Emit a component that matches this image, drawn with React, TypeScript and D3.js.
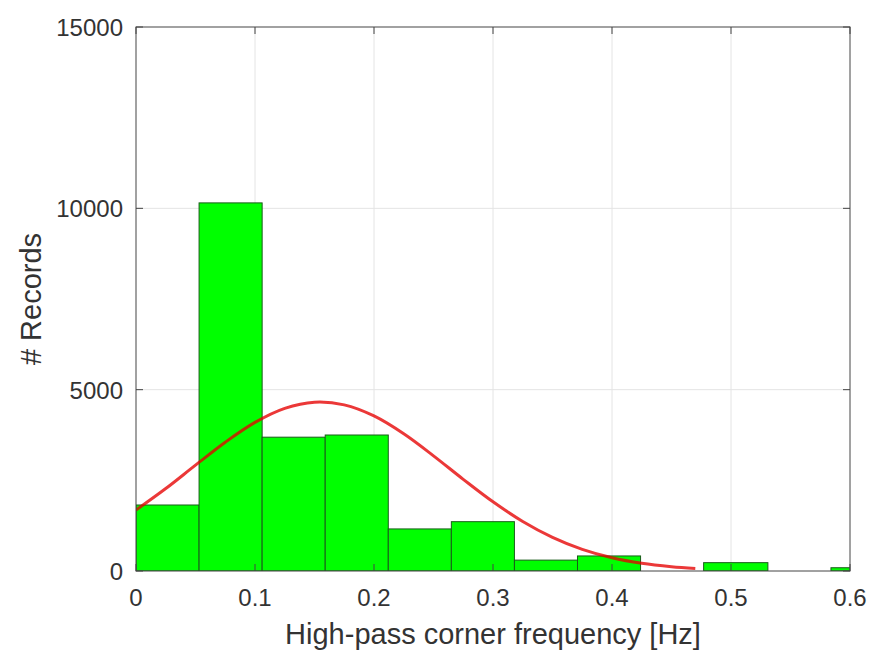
import React from "react";
import * as d3 from "d3";

// Histogram of high-pass corner frequencies with a fitted normal curve
const binEdges = [0, 0.053, 0.106, 0.159, 0.212, 0.265, 0.318, 0.371, 0.424, 0.477, 0.531, 0.584, 0.637];
const binCounts = [1820, 10150, 3690, 3750, 1160, 1360, 300, 415, 0, 230, 0, 90];

// Fitted distribution curve, sampled
const fitX = [0, 0.025, 0.05, 0.075, 0.1, 0.125, 0.15, 0.175, 0.2, 0.225, 0.25, 0.275, 0.3, 0.325, 0.35, 0.375, 0.4, 0.425, 0.45, 0.47];
const fitY = [1680, 2273, 2918, 3551, 4098, 4485, 4655, 4581, 4276, 3784, 3176, 2528, 1908, 1366, 927, 596, 364, 211, 116, 68];

const xTicks = [0, 0.1, 0.2, 0.3, 0.4, 0.5, 0.6];
const yTicks = [0, 5000, 10000, 15000];

const W = 878;
const H = 654;
const M = { left: 136, right: 28, top: 27, bottom: 83 };

export default function App() {
  const iw = W - M.left - M.right;
  const ih = H - M.top - M.bottom;
  const x = d3.scaleLinear().domain([0, 0.6]).range([0, iw]);
  const y = d3.scaleLinear().domain([0, 15000]).range([ih, 0]);

  const line = d3
    .line<number>()
    .x((_, i) => x(fitX[i]))
    .y((d) => y(d))
    .curve(d3.curveCatmullRom);

  const font = "'Liberation Sans', Arial, Helvetica, sans-serif";
  const textColor = "#333";
  const axisColor = "#444";
  const tickLen = 7;
  const tickFont = 24;
  const labelFont = 29;

  return (
    <svg width={W} height={H} style={{ position: "absolute", left: 0, top: 0, background: "#fff" }}>
      <defs>
        <clipPath id="plotClip">
          <rect x={0} y={0} width={iw} height={ih} />
        </clipPath>
      </defs>
      <g transform={`translate(${M.left},${M.top})`}>
        {/* grid */}
        {xTicks.slice(1, -1).map((t) => (
          <line key={"gx" + t} x1={x(t)} x2={x(t)} y1={0} y2={ih} stroke="#e4e4e4" strokeWidth={1} />
        ))}
        {yTicks.slice(1, -1).map((t) => (
          <line key={"gy" + t} x1={0} x2={iw} y1={y(t)} y2={y(t)} stroke="#e4e4e4" strokeWidth={1} />
        ))}

        {/* histogram bars */}
        <g clipPath="url(#plotClip)">
          {binCounts.map((c, i) =>
            c > 0 ? (
              <rect
                key={"b" + i}
                x={x(binEdges[i])}
                y={y(c)}
                width={x(binEdges[i + 1]) - x(binEdges[i])}
                height={y(0) - y(c)}
                fill="#00ff00"
                stroke="#1a5c1a"
                strokeWidth={1}
              />
            ) : null
          )}
          {/* fitted curve */}
          <path d={line(fitY) ?? ""} fill="none" stroke="#e60000" strokeOpacity={0.78} strokeWidth={3} />
        </g>

        {/* axes box */}
        <rect x={0} y={0} width={iw} height={ih} fill="none" stroke={axisColor} strokeWidth={1} />

        {/* x ticks */}
        {xTicks.map((t) => (
          <g key={"xt" + t}>
            <line x1={x(t)} x2={x(t)} y1={ih} y2={ih - tickLen} stroke={axisColor} />
            <line x1={x(t)} x2={x(t)} y1={0} y2={tickLen} stroke={axisColor} />
            <text
              x={x(t)}
              y={ih + 35}
              textAnchor="middle"
              fontFamily={font}
              fontSize={tickFont}
              fill={textColor}
            >
              {d3.format("~g")(t)}
            </text>
          </g>
        ))}

        {/* y ticks */}
        {yTicks.map((t) => (
          <g key={"yt" + t}>
            <line x1={0} x2={tickLen} y1={y(t)} y2={y(t)} stroke={axisColor} />
            <line x1={iw} x2={iw - tickLen} y1={y(t)} y2={y(t)} stroke={axisColor} />
            <text
              x={-13}
              y={y(t) + 9}
              textAnchor="end"
              fontFamily={font}
              fontSize={tickFont}
              fill={textColor}
            >
              {t}
            </text>
          </g>
        ))}

        {/* axis labels */}
        <text
          x={iw / 2}
          y={ih + 73}
          textAnchor="middle"
          fontFamily={font}
          fontSize={labelFont}
          fill={textColor}
        >
          High-pass corner frequency [Hz]
        </text>
        <text
          transform={`translate(${41 - M.left},${ih / 2}) rotate(-90)`}
          textAnchor="middle"
          fontFamily={font}
          fontSize={labelFont}
          fill={textColor}
        >
          # Records
        </text>
      </g>
    </svg>
  );
}
